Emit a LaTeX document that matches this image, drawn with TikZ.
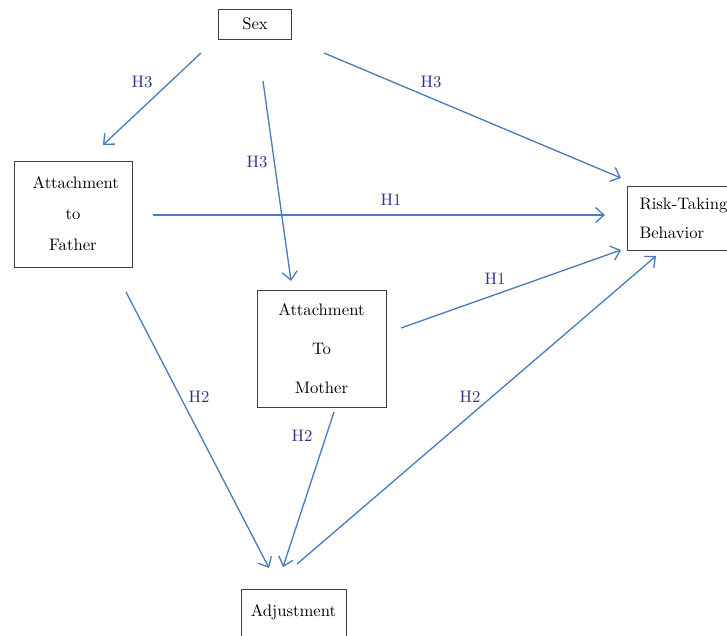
\documentclass[tikz,border=0pt]{standalone}
\usetikzlibrary{arrows.meta}
\begin{document}
\begin{tikzpicture}[x=0.6pt, y=-0.6pt,
  box/.style={draw=black!75, line width=0.6pt, inner sep=0pt},
  link/.style={draw=linkblue, line width=0.8pt, -{Straight Barb[length=5pt, width=9pt]}},
  hyp/.style={text=hypnavy, inner sep=0pt}]
\definecolor{linkblue}{HTML}{4A7EBB}
\definecolor{hypnavy}{HTML}{2E3284}
\clip (0,0) rectangle (727,635);
% boxes
\node[box, minimum width=43.8pt, minimum height=18pt] (sex) at (255,24) {Sex};
\node[box, minimum width=70.8pt, minimum height=63.6pt, align=center] (father) at (73,214)
  {\ Attachment\\[6.6pt]to\\[6.6pt]Father};
\node[box, minimum width=77.4pt, minimum height=70.2pt, align=center] (mother) at (321.5,348.5)
  {Attachment\\[11.4pt]To\\[11.4pt]Mother};
\node[box, anchor=west, inner xsep=7.2pt, minimum height=38.4pt, align=left] (risk) at (627,218)
  {Risk-Taking\\[5.4pt]Behavior};
\node[box, anchor=north, minimum width=63pt, inner ysep=9pt, text depth=15pt] (adjust) at (293.5,589) {Adjustment};
% free ends of the arrows
\coordinate (sexA) at (201,53);  \coordinate (fatherIn) at (103,145);
\coordinate (sexB) at (263,81);  \coordinate (motherIn) at (291,281);
\coordinate (sexC) at (324,53);  \coordinate (riskInA) at (621,178);
\coordinate (fatherA) at (153,215); \coordinate (riskInB) at (605,215);
\coordinate (motherA) at (401,328); \coordinate (riskInC) at (621,250);
\coordinate (fatherB) at (126,292); \coordinate (adjInA) at (269,568);
\coordinate (motherB) at (334,412); \coordinate (adjInB) at (283,567);
\coordinate (adjOut) at (297,564);  \coordinate (riskInD) at (656,256);
% arrows
\draw[link] (sexA) -- (fatherIn);
\draw[link] (sexB) -- (motherIn);
\draw[link] (sexC) -- (riskInA);
\draw[link] (fatherA) -- (riskInB);
\draw[link] (motherA) -- (riskInC);
\draw[link] (fatherB) -- (adjInA);
\draw[link] (motherB) -- (adjInB);
\draw[link] (adjOut) -- (riskInD);
% hypotheses
\node[hyp] (hSexFather) at (142,82) {H3};
\node[hyp] (hSexMother) at (257,162) {H3};
\node[hyp] (hSexRisk) at (431,82) {H3};
\node[hyp] (hFatherRisk) at (391,200) {H1};
\node[hyp] (hMotherRisk) at (495,279) {H1};
\node[hyp] (hFatherAdj) at (199,397) {H2};
\node[hyp] (hMotherAdj) at (302,436) {H2};
\node[hyp] (hAdjRisk) at (470,397) {H2};
\end{tikzpicture}
\end{document}
